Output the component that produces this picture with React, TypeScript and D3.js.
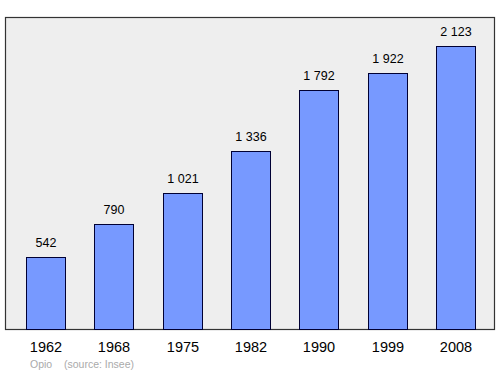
import React from "react";
import * as d3 from "d3";

const years = ["1962", "1968", "1975", "1982", "1990", "1999", "2008"];
const population = [542, 790, 1021, 1336, 1792, 1922, 2123];
const valueLabels = ["542", "790", "1 021", "1 336", "1 792", "1 922", "2 123"];
const commune = "Opio";
const source = "(source: Insee)";

export default function App() {
  const W = 500, H = 374;
  const frame = { x0: 5.5, y0: 17.5, x1: 494.5, y1: 329.5 };
  const x = d3.scaleBand<string>().domain(years).range([11, 490]).paddingInner(0.43).paddingOuter(0.215);
  const y = d3.scaleLinear().domain([0, d3.max(population)! * 1.1]).range([329.5, 17.5]);
  return (
    <svg width={W} height={H} style={{ position: "absolute", left: 0, top: 0 }} fontFamily="'Liberation Sans', Arial, sans-serif">
      <rect x={0} y={0} width={W} height={H} fill="#fff" />
      <rect x={frame.x0} y={frame.y0} width={frame.x1 - frame.x0} height={frame.y1 - frame.y0} fill="#eeeeee" stroke="#333" strokeWidth={1.2} />
      {years.map((yr, i) => {
        const bx = Math.round(x(yr)!) + 0.5;
        const bw = Math.round(x.bandwidth());
        const ty = Math.round(y(population[i])) + 0.5;
        return (
          <g key={yr}>
            <rect x={bx} y={ty} width={bw} height={frame.y1 - ty} fill="#7799ff" stroke="#000033" strokeWidth={1} />
            <text x={bx + bw / 2} y={ty - 11} textAnchor="middle" fontSize={12.5} fill="#000">{valueLabels[i]}</text>
            <text x={bx + bw / 2} y={352} textAnchor="middle" fontSize={14.5} fill="#000">{yr}</text>
          </g>
        );
      })}
      <text x={30} y={368} fontSize={10.5} fill="#aaaaaa">{commune}</text>
      <text x={64} y={368} fontSize={10.5} fill="#aaaaaa">{source}</text>
    </svg>
  );
}
